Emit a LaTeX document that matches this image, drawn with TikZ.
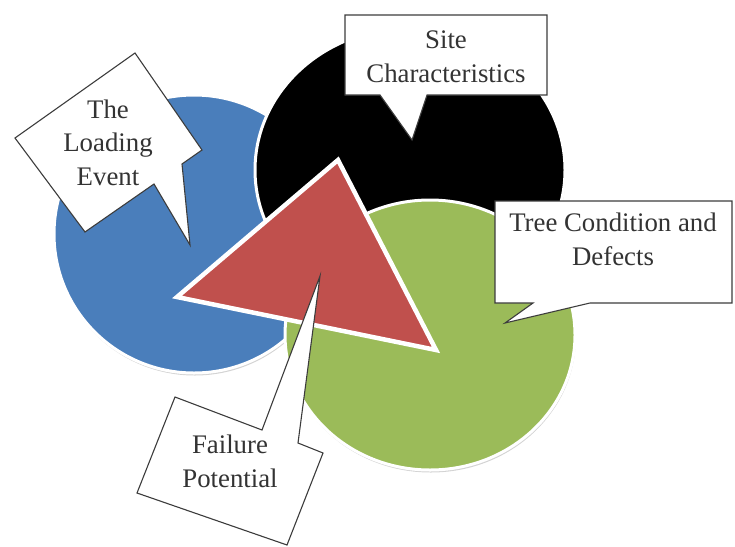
\documentclass[tikz,border=0pt]{standalone}
\usepackage{fontspec}
\setmainfont{Liberation Serif}
\usetikzlibrary{shadows}
\definecolor{obBlue}{HTML}{4A7EBB}
\definecolor{obGreen}{HTML}{9BBB59}
\definecolor{obRed}{HTML}{C0504D}
\definecolor{inkGray}{HTML}{333333}
\definecolor{rimGray}{HTML}{3C3C3C}
\tikzset{
  disc/.style={draw=white, line width=3pt,
    drop shadow={opacity=0.35, shadow xshift=0.8pt, shadow yshift=-2.5pt}},
  wedge/.style={fill=obRed, draw=white, line width=4.5pt, line join=miter,
    drop shadow={opacity=0.3, shadow xshift=1pt, shadow yshift=-2pt}},
  callout/.style={fill=white, draw=rimGray, line width=1.1pt, line join=miter},
  label/.style={text=inkGray, align=center,
    font=\fontsize{26.8}{33.5}\selectfont, inner sep=0pt}
}
\begin{document}
\begin{tikzpicture}[x=1pt, y=-1pt]
  \useasboundingbox (0,0) rectangle (735,546);

  % the three overlapping discs
  \path[disc, fill=obBlue]  (194,234) ellipse [x radius=140, y radius=139];
  \path[disc, fill=black]   (410,170) ellipse [x radius=155, y radius=142];
  \path[disc, fill=obGreen] (430,335) ellipse [x radius=145, y radius=135];

  % the central triangle
  \path[wedge] (177,297) -- (338,160) -- (436,350) -- cycle;

  % callout: The Loading Event (base = last line)
  \path[callout] (135,53) -- (202,150) -- (182,164) -- (190,245)
    -- (154,184) -- (85,232) -- (15,138) -- cycle;
  \node[label, anchor=base] (loading) at (108,185)
    {The\\Loading\\Event};

  % callout: Site Characteristics
  \path[callout] (345,15) -- (547,15) -- (547,95) -- (427,95)
    -- (412,140) -- (380,95) -- (345,95) -- cycle;
  \node[label, anchor=base] (site) at (446,82)
    {Site\\Characteristics};

  % callout: Tree Condition and Defects
  \path[callout] (495,201) -- (732,201) -- (732,303) -- (590,303)
    -- (505,323) -- (533,303) -- (495,303) -- cycle;
  \node[label, anchor=base] (tree) at (613,265)
    {Tree Condition and\\Defects};

  % callout: Failure Potential
  \path[callout] (175,397) -- (262,430) -- (320,276) -- (298,443)
    -- (323,453) -- (287,545) -- (137,493) -- cycle;
  \node[label, anchor=base] (failure) at (230,487)
    {Failure\\Potential};
\end{tikzpicture}
\end{document}
